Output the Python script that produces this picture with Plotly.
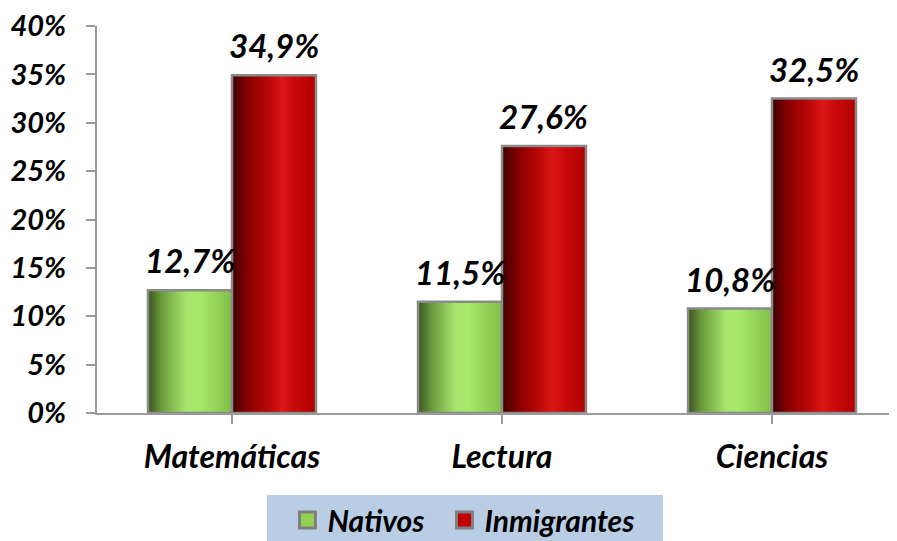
import plotly.graph_objects as go

categories = ["Matemáticas", "Lectura", "Ciencias"]
nativos = [12.7, 11.5, 10.8]
inmigrantes = [34.9, 27.6, 32.5]
series_names = ["Nativos", "Inmigrantes"]
y_ticks = [0, 5, 10, 15, 20, 25, 30, 35, 40]
y_tick_labels = [f"{t}%" for t in y_ticks]

FONT = "Lato"
BAR_W = 0.311
N_STRIPS = 42

green_stops = [(0.0, (60, 84, 32)), (0.15, (104, 150, 58)), (0.45, (166, 230, 108)),
               (0.6, (168, 232, 106)), (0.8, (148, 212, 88)), (1.0, (130, 190, 72))]
red_stops = [(0.0, (60, 0, 0)), (0.2, (140, 0, 0)), (0.45, (186, 8, 8)),
             (0.6, (220, 24, 24)), (0.75, (200, 10, 10)), (1.0, (178, 0, 0))]


def interp(stops, t):
    for (t0, c0), (t1, c1) in zip(stops[:-1], stops[1:]):
        if t0 <= t <= t1:
            f = (t - t0) / (t1 - t0) if t1 > t0 else 0
            return "rgb(%d,%d,%d)" % tuple(round(a + (b - a) * f) for a, b in zip(c0, c1))
    return "rgb(%d,%d,%d)" % stops[-1][1]


fig = go.Figure()
xs = list(range(len(categories)))

for vals, stops, base_off in [(nativos, green_stops, -BAR_W), (inmigrantes, red_stops, 0.0)]:
    sw = BAR_W / N_STRIPS
    for i in range(N_STRIPS):
        w = sw * 1.6 if i < N_STRIPS - 1 else sw
        fig.add_trace(go.Bar(
            x=xs, y=vals, width=w, offset=base_off + i * sw,
            marker=dict(color=interp(stops, (i + 0.5) / N_STRIPS), line=dict(width=0)),
            showlegend=False, hoverinfo="skip"))
    fig.add_trace(go.Bar(
        x=xs, y=vals, width=BAR_W, offset=base_off,
        marker=dict(color="rgba(0,0,0,0)", line=dict(color="#8a8a8a", width=2.5)),
        showlegend=False, hoverinfo="skip"))

# data labels
for vals, off in [(nativos, -BAR_W / 2), (inmigrantes, BAR_W / 2)]:
    for i, v in enumerate(vals):
        fig.add_annotation(x=i + off, y=v, text=f"{v:.1f}".replace(".", ",") + "%",
                           showarrow=False, yanchor="bottom", yshift=8,
                           font=dict(family=FONT, size=33, color="black", weight="bold", style="italic"))

# legend entries (one legend box per series for spacing)
for name, col, lg in zip(series_names, ["#92d050", "#c00000"], ["legend", "legend2"]):
    fig.add_trace(go.Scatter(x=[None], y=[None], mode="markers", name=name, legend=lg,
                             marker=dict(symbol="square", size=17, color=col,
                                         line=dict(color="#7f7f7f", width=3))))

# legend background box
fig.add_shape(type="rect", xref="paper", yref="paper", x0=0.2104, x1=0.7005, y0=-0.37, y1=-0.2119,
              fillcolor="#b9cde5", line=dict(width=0), layer="below")

legend_font = dict(family=FONT, size=30, color="black", weight="bold", style="italic")
common_legend = dict(orientation="h", xref="paper", yref="paper", y=-0.2765,
                     xanchor="left", yanchor="middle", bgcolor="rgba(0,0,0,0)", borderwidth=0,
                     font=legend_font, itemwidth=30)

fig.update_layout(
    width=897, height=541,
    margin=dict(l=89, r=0, t=18, b=136, autoexpand=False),
    paper_bgcolor="white", plot_bgcolor="white",
    barmode="overlay",
    showlegend=True,
    legend=dict(x=0.2358, **common_legend),
    legend2=dict(x=0.4301, **common_legend),
    xaxis=dict(tickmode="array", tickvals=xs, ticktext=categories,
               range=[-0.5, 2.4926], showline=True, linecolor="#9a9a9a", linewidth=2,
               ticks="outside", tickson="boundaries", ticklen=9, tickcolor="#9a9a9a", tickwidth=2,
               ticklabelstandoff=6, showgrid=False, zeroline=False, automargin=False,
               tickfont=dict(family=FONT, size=32, color="black", weight="bold", style="italic")),
    yaxis=dict(range=[0, 40], tickmode="array", tickvals=y_ticks, ticktext=y_tick_labels,
               showline=True, linecolor="#9a9a9a", linewidth=2, ticks="outside", ticklen=9,
               tickcolor="#9a9a9a", tickwidth=2, ticklabelstandoff=14, automargin=False,
               ticklabeloverflow="allow", showgrid=False, zeroline=False,
               tickfont=dict(family=FONT, size=29, color="black", weight="bold", style="italic")),
)

fig.write_html("out.html")
